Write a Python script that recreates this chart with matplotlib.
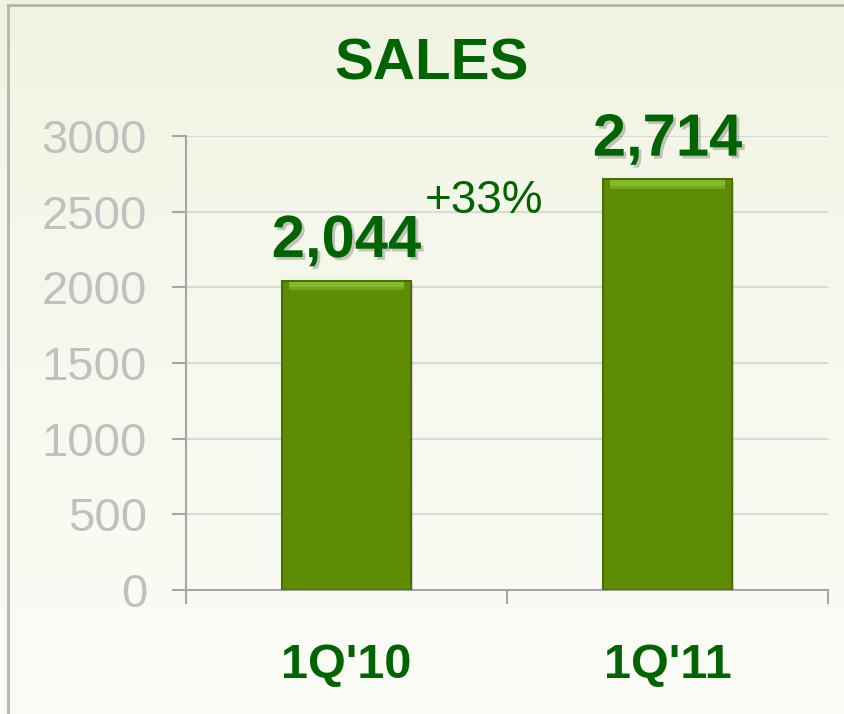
import numpy as np
import matplotlib
matplotlib.use("Agg")
import matplotlib.pyplot as plt
import matplotlib.patheffects as pe
from matplotlib.lines import Line2D

# data
quarters = ["1Q'10", "1Q'11"]
sales = [2044, 2714]
growth_label = "+33%"

GREEN_TXT = "#006400"
BAR = "#5e8c04"
BAR_TOP = "#86ba2e"
BAR_EDGE = "#4b6f00"
GRID = "#d9d9d9"
AXIS = "#a6a6a6"
TICKTXT = "#c0c0c0"

plt.rcParams["font.family"] = ["Liberation Sans", "DejaVu Sans"]

W, H = 845, 714
fig = plt.figure(figsize=(W / 100, H / 100), dpi=100)
fig.patch.set_facecolor("#f4f6e6")

# background gradient
bg = fig.add_axes([0, 0, 1, 1], zorder=-10)
grad = np.linspace(0, 1, 256).reshape(-1, 1)
top = np.array([0.935, 0.950, 0.870])
bot = np.array([0.985, 0.988, 0.965])
img = top + (bot - top) * grad[..., None] ** 0.6
bg.imshow(img, aspect="auto", extent=[0, 1, 0, 1], origin="upper")
bg.axis("off")

# frame lines
fig.add_artist(Line2D([8 / W, 8 / W], [0, 1 - 5 / H], transform=fig.transFigure, color="#b4b4b4", lw=2))
fig.add_artist(Line2D([8 / W, 1], [1 - 5 / H, 1 - 5 / H], transform=fig.transFigure, color="#b4b4b4", lw=2))

ax = fig.add_axes([186 / W, 1 - 590 / H, (828 - 186) / W, (590 - 136) / H])
ax.patch.set_alpha(0)
x = np.arange(len(quarters))
ax.set_xlim(-0.5, len(quarters) - 0.5)
ax.set_ylim(0, 3000)

ax.bar(x, sales, width=0.4, color=BAR, edgecolor=BAR_EDGE, linewidth=1.5, zorder=3,
       path_effects=[pe.SimplePatchShadow(offset=(2, -2), shadow_rgbFace="#808080", alpha=0.3), pe.Normal()])
# bevel highlight at the top of each bar
for h, c in ((55, "#74a51c"), (35, BAR_TOP)):
    ax.bar(x, [h] * len(sales), bottom=[v - h - 8 for v in sales], width=0.36,
           color=c, edgecolor="none", zorder=4)

ax.set_yticks(np.arange(0, 3001, 500))
ax.yaxis.grid(True, color=GRID, lw=1.5, zorder=0)
ax.set_axisbelow(True)
for s in ("top", "right"):
    ax.spines[s].set_visible(False)
for s in ("left", "bottom"):
    ax.spines[s].set_color(AXIS)
    ax.spines[s].set_linewidth(1.5)

ax.tick_params(axis="y", direction="out", length=10, width=1.5, color=AXIS,
               labelsize=34, labelcolor=TICKTXT, pad=18)
ax.set_xticks(x)
ax.set_xticklabels(quarters, fontsize=35, fontweight="bold", color=GREEN_TXT)
ax.tick_params(axis="x", which="major", length=0, pad=38)
ax.set_xticks(np.arange(-0.5, len(quarters)), minor=True)
ax.tick_params(axis="x", which="minor", direction="out", length=10, width=1.5, color=AXIS)

shadow = [pe.withSimplePatchShadow(offset=(2, -2), shadow_rgbFace="#666666", alpha=0.35)]
for xi, v in zip(x, sales):
    ax.annotate(f"{v:,}", (xi, v), xytext=(0, 17), textcoords="offset points",
                ha="center", va="baseline", fontsize=43, fontweight="bold",
                color=GREEN_TXT, path_effects=shadow, zorder=5)

ax.text(0.245, 2490, growth_label, ha="left", va="baseline", fontsize=33, color=GREEN_TXT, zorder=5)

fig.text(432 / W, 1 - 80 / H, "SALES", ha="center", va="baseline", fontsize=42,
         fontweight="bold", color=GREEN_TXT)

fig.savefig("out.png", dpi=100)
